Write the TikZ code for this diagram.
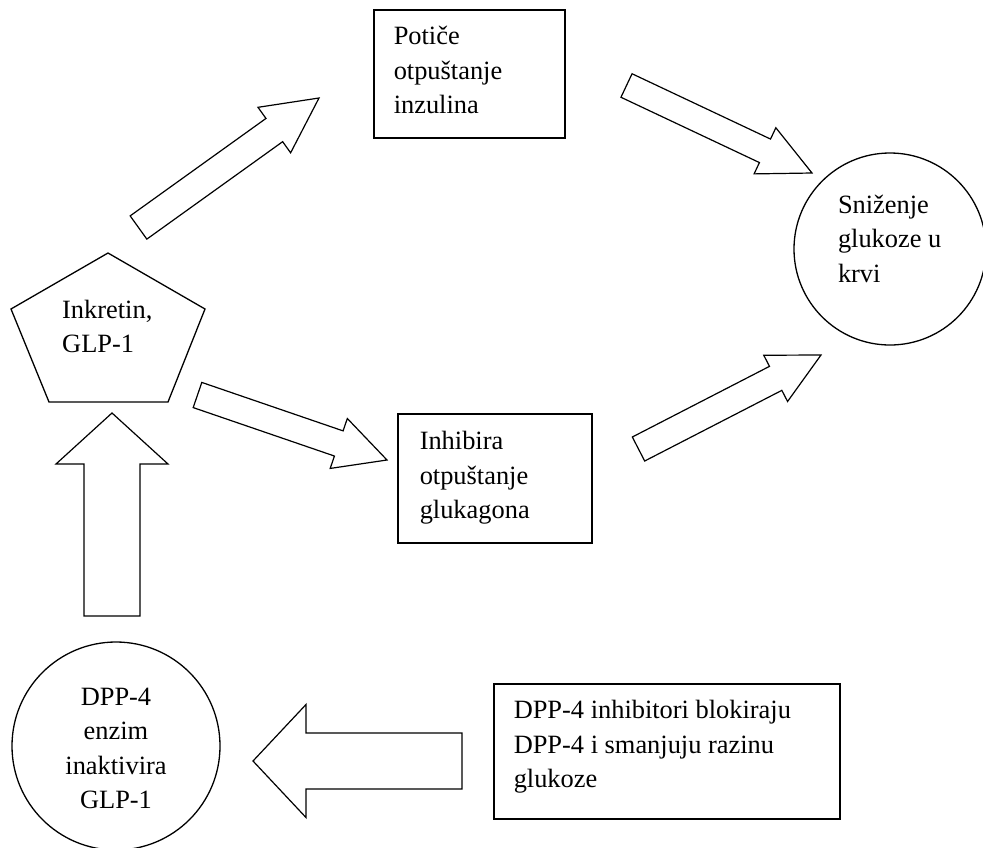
\documentclass[tikz,border=0pt]{standalone}
\usepackage{fontspec}
\setmainfont{Liberation Serif}
\usetikzlibrary{calc}
\newcommand{\ftext}{\fontsize{26.4}{34.6}\selectfont}
\newcommand{\blockarr}[5]{% tail, tip, shaft half width, head half width, head length
  \coordinate (hb) at ($(#2)!#5!(#1)$);
  \draw[blockline] ($(#1)!#3!90:(#2)$) -- ($(hb)!#3!90:(#2)$) -- ($(hb)!#4!90:(#2)$) -- (#2)
    -- ($(hb)!#4!-90:(#2)$) -- ($(hb)!#3!-90:(#2)$) -- ($(#1)!#3!-90:(#2)$) -- cycle;
}
\begin{document}
\begin{tikzpicture}[x=1pt,y=-1pt,
  boxnode/.style={draw, rectangle, line width=1.5pt, inner ysep=0pt, anchor=north west, font=\ftext},
  circnode/.style={draw, circle, line width=1.3pt, inner sep=0pt, font=\ftext},
  blockline/.style={draw, line width=1.2pt, line join=miter, fill=white},
  txt/.style={inner sep=0pt, anchor=base west, font=\ftext}]
\useasboundingbox[fill=white] (0,0) rectangle (983,847);

% boxes
\node[boxnode, inner xsep=20pt, text height=35pt, text depth=93pt] (potice) at (373,9)
  {\parbox[t]{151pt}{\raggedright Potiče\\otpuštanje\\inzulina}};
\node[boxnode, inner xsep=22pt, text height=36pt, text depth=93pt] (inhibira) at (397,413)
  {\parbox[t]{150pt}{\raggedright Inhibira\\otpuštanje\\glukagona}};
\node[boxnode, inner xsep=20pt, text height=35pt, text depth=100pt] (inhibitori) at (493,683)
  {\parbox[t]{306pt}{\raggedright DPP-4 inhibitori blokiraju\\DPP-4 i smanjuju razinu\\glukoze}};

% circles
\node[circnode, minimum size=192pt, text height=20pt, text depth=92pt] (snizenje) at (890,249)
  {\parbox[t]{104pt}{\raggedright Sniženje\\glukoze u\\krvi}};
\node[circnode, minimum size=208pt, text height=20pt, text depth=102pt] (dpp) at (116,746)
  {\parbox[t]{120pt}{\centering DPP-4\\enzim\\inaktivira\\GLP-1}};

% pentagon
\draw[line width=1.3pt, line join=miter] (108,253) -- (205,309) -- (168,402) -- (49,402) -- (11,309) -- cycle;
\node[txt] (inkretin) at (62,318) {\parbox[t]{130pt}{\raggedright Inkretin,\\GLP-1}};

% arrow end points
\coordinate (a1s) at (138.5,227.5); \coordinate (a1e) at (319,98);
\coordinate (a2s) at (197.5,395);   \coordinate (a2e) at (387,460);
\coordinate (a3s) at (626.5,85.5);  \coordinate (a3e) at (812,173);
\coordinate (a4s) at (638.5,449);   \coordinate (a4e) at (821,355);
\coordinate (a5s) at (112,616);     \coordinate (a5e) at (112,413);
\coordinate (a6s) at (462,761);     \coordinate (a6e) at (253,761);

\blockarr{a1s}{a1e}{14.3pt}{28pt}{55pt}
\blockarr{a2s}{a2e}{13.3pt}{26.4pt}{51pt}
\blockarr{a3s}{a3e}{13pt}{25.5pt}{52pt}
\blockarr{a4s}{a4e}{13.5pt}{26pt}{51pt}
\blockarr{a5s}{a5e}{28pt}{56pt}{51pt}
\blockarr{a6s}{a6e}{28pt}{56.5pt}{53pt}
\end{tikzpicture}
\end{document}
